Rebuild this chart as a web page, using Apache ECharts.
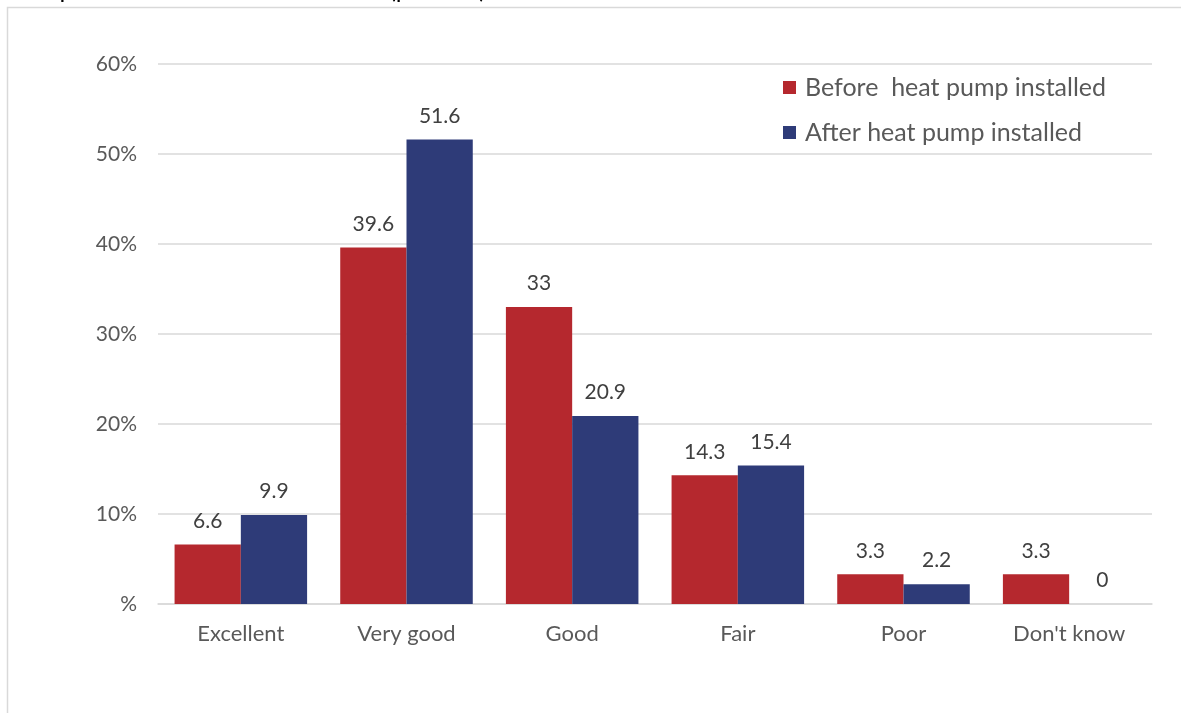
<!DOCTYPE html>
<html>
<head>
<meta charset="utf-8">
<script src="https://cdn.jsdelivr.net/npm/echarts@6/dist/echarts.min.js"></script>
<style>
  html, body { margin: 0; padding: 0; background: #fff; }
  #chart { width: 1181px; height: 713px; }
</style>
</head>
<body>
<div id="chart"></div>
<script>
// categories and values (percent)
const categories = ['Excellent', 'Very good', 'Good', 'Fair', 'Poor', "Don't know"];
const beforeValues = [6.6, 39.6, 33, 14.3, 3.3, 3.3];
const afterValues = [9.9, 51.6, 20.9, 15.4, 2.2, 0];
const seriesNames = ['Before  heat pump installed', 'After heat pump installed'];
const yTicks = [0, 10, 20, 30, 40, 50, 60];

const font = 'Lato, "Open Sans", sans-serif';
const chart = echarts.init(document.getElementById('chart'));

const labelStyle = {
  show: true,
  position: 'top',
  distance: 13,
  fontSize: 21,
  color: '#404040',
  fontFamily: font
};

const option = {
  animation: false,
  textStyle: { fontFamily: font },
  graphic: [
    {
      type: 'rect',
      shape: { x: 7.5, y: 7.5, width: 1200, height: 720 },
      style: { fill: 'none', stroke: '#d9d9d9', lineWidth: 1.5 },
      z: -1
    },
    {
      // clipped chart title, only its descenders show at the very top
      type: 'text',
      left: 14,
      top: -23,
      style: {
        text: 'Temperature comfort in the home (percent)',
        font: '25px ' + font,
        fill: '#000'
      }
    }
  ],
  legend: {
    orient: 'vertical',
    left: 778,
    top: 70,
    itemWidth: 13,
    itemHeight: 13,
    itemGap: 20,
    icon: 'rect',
    textStyle: { fontSize: 25, color: '#595959', fontFamily: font, padding: [0, 0, 0, 4] },
    data: seriesNames
  },
  grid: { left: 158, right: 29, top: 64, bottom: 109, containLabel: false },
  xAxis: {
    type: 'category',
    data: categories,
    axisLine: { show: true, lineStyle: { color: '#d9d9d9', width: 1.5 } },
    axisTick: { show: false },
    axisLabel: { fontSize: 22, color: '#595959', margin: 19, fontFamily: font }
  },
  yAxis: {
    type: 'value',
    min: yTicks[0],
    max: yTicks[yTicks.length - 1],
    interval: 10,
    axisLine: { show: false },
    axisTick: { show: false },
    splitLine: { lineStyle: { color: '#d9d9d9', width: 1.5 } },
    axisLabel: {
      fontSize: 21,
      color: '#595959',
      margin: 21,
      fontFamily: font,
      formatter: v => (v === 0 ? '%' : v + '%')
    }
  },
  series: [
    {
      name: seriesNames[0],
      type: 'bar',
      data: beforeValues,
      barGap: '0%',
      barCategoryGap: '20%',
      itemStyle: { color: '#b5282e' },
      label: labelStyle
    },
    {
      name: seriesNames[1],
      type: 'bar',
      data: afterValues,
      itemStyle: { color: '#2e3b78' },
      label: labelStyle
    }
  ]
};

chart.setOption(option);
</script>
</body>
</html>
